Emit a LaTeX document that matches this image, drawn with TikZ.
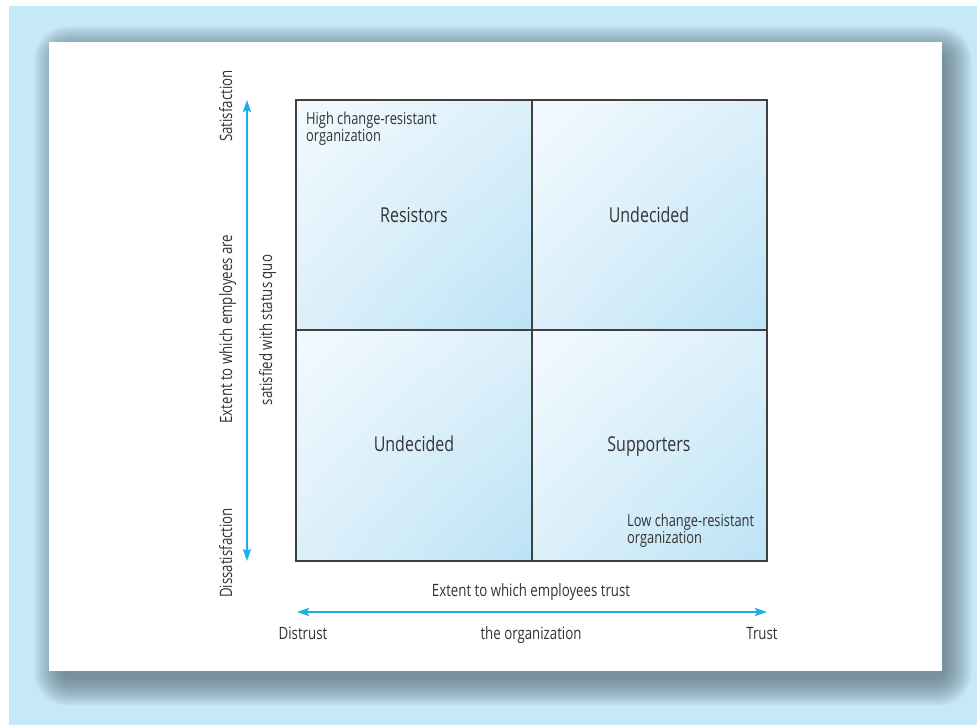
\documentclass[tikz,border=0pt]{standalone}
\usepackage{fontspec}
\setmainfont[FakeStretch=0.78]{Open Sans}
\usetikzlibrary{arrows.meta,shadings}

\definecolor{skyback}{HTML}{C6E9F8}
\definecolor{shadowgray}{HTML}{5F707C}
\definecolor{axiscyan}{HTML}{1AAFEB}
\definecolor{cellpale}{HTML}{F3FAFE}
\definecolor{cellmid}{HTML}{DCF0FA}
\definecolor{celldeep}{HTML}{BCE3F6}
\definecolor{inkgray}{HTML}{333333}
\definecolor{edgegray}{HTML}{404040}

\tikzset{
  cell/.style={upper left=cellpale, upper right=cellmid, lower left=cellmid, lower right=celldeep},
  axislabel/.style={text=inkgray, font=\fontsize{17}{20}\selectfont, anchor=base, inner sep=0pt},
  quadlabel/.style={text=inkgray, font=\fontsize{20.5}{24}\selectfont, anchor=base, inner sep=0pt},
  cornerlabel/.style={text=inkgray, font=\fontsize{16.5}{17}\selectfont, align=left, anchor=north west, inner sep=0pt},
  axisarrow/.style={draw=axiscyan, line width=2pt, >={Stealth[length=12pt,width=8pt,inset=2pt]}, <->}
}

\begin{document}
\begin{tikzpicture}[x=1pt,y=-1pt]
    \useasboundingbox (0,0) rectangle (977,725);

    % Backdrop and panel
    \fill[skyback] (9,6) rectangle (977,725);
    \foreach \r in {0,...,28}
        \fill[shadowgray, opacity=0.036, rounded corners={6pt+\r pt}] ({62-\r},{54-\r}) rectangle ({944+\r},{678+\r});
    \fill[white] (49,42) rectangle (942,671);

    % Quadrants
    \coordinate (gridNW) at (296,100);
    \coordinate (gridMid) at (532,330);
    \coordinate (gridSE) at (767,561);
    \shade[cell] (296,100) rectangle (532,330); % Resistors
    \shade[cell] (532,100) rectangle (767,330); % Undecided
    \shade[cell] (296,330) rectangle (532,561); % Undecided
    \shade[cell] (532,330) rectangle (767,561); % Supporters
    \draw[edgegray, line width=1.4pt] (gridNW) rectangle (gridSE);
    \draw[edgegray, line width=1.4pt] (gridMid |- gridNW) -- (gridMid |- gridSE);
    \draw[edgegray, line width=1.4pt] (gridMid -| gridNW) -- (gridMid -| gridSE);

    \node[cornerlabel] (highOrg) at (306,112) {High change-resistant\\organization};
    \node[quadlabel] (resistors) at (414,222) {Resistors};
    \node[quadlabel] (undecidedTop) at (649,222) {Undecided};
    \node[quadlabel] (undecidedBot) at (414,451) {Undecided};
    \node[quadlabel] (supporters) at (649,451) {Supporters};
    \node[cornerlabel] (lowOrg) at (627,514) {Low change-resistant\\organization};

    % Axes
    \coordinate (satTop) at (247,100);
    \coordinate (satBot) at (247,561);
    \coordinate (trustLeft) at (297,612);
    \coordinate (trustRight) at (767,612);
    \draw[axisarrow] (satBot) -- (satTop);
    \draw[axisarrow] (trustLeft) -- (trustRight);

    \node[axislabel, rotate=90] (satisfaction) at (232,106) {Satisfaction};
    \node[axislabel, rotate=90] (dissatisfaction) at (232,553) {Dissatisfaction};
    \node[axislabel, rotate=90] (satAxisA) at (232,329) {Extent to which employees are};
    \node[axislabel, rotate=90] (satAxisB) at (272,330) {satisfied with status quo};
    \node[axislabel] (trustAxisA) at (531,596) {Extent to which employees trust};
    \node[axislabel] (trustAxisB) at (531,639) {the organization};
    \node[axislabel] (distrust) at (303,639) {Distrust};
    \node[axislabel] (trust) at (762,639) {Trust};
\end{tikzpicture}
\end{document}
